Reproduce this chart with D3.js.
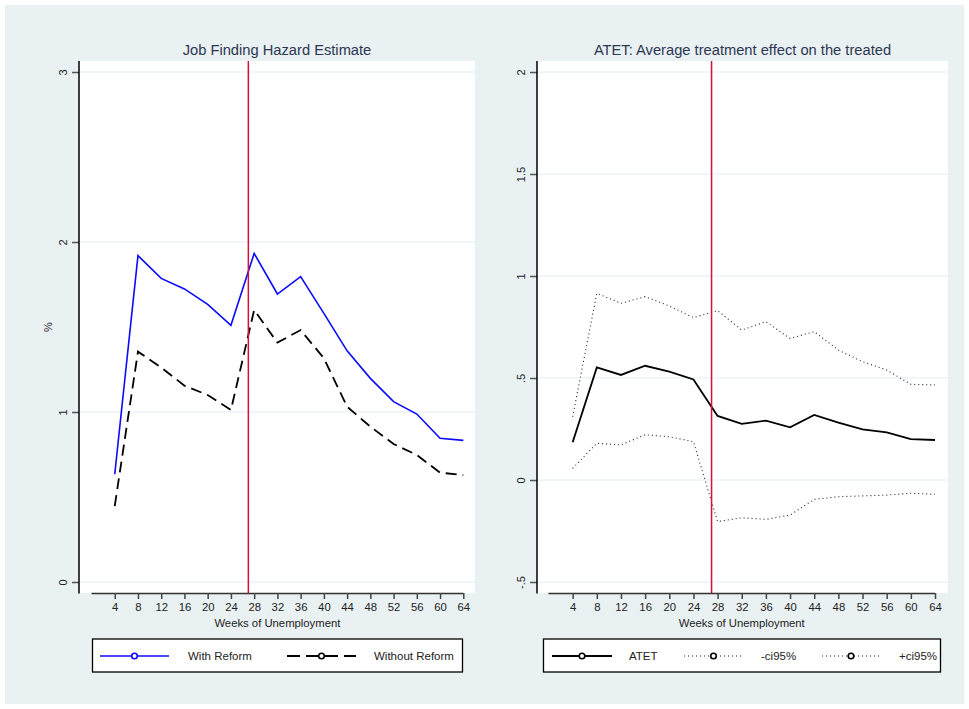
<!DOCTYPE html>
<html>
<head>
<meta charset="utf-8">
<script src="https://cdn.jsdelivr.net/npm/d3@7"></script>
<style>
  html, body { margin: 0; padding: 0; background: #ffffff; }
  svg { display: block; font-family: "Liberation Sans", Arial, sans-serif; }
</style>
</head>
<body>
<svg id="chart" width="969" height="709"></svg>
<script>
// Weeks of unemployment (x values shared by all series)
const weeks = [4, 8, 12, 16, 20, 24, 28, 32, 36, 40, 44, 48, 52, 56, 60, 64];
const xTicks = [4, 8, 12, 16, 20, 24, 28, 32, 36, 40, 44, 48, 52, 56, 60, 64];
const reformWeek = 27;

// Job finding hazard (%)
const withReform    = [0.634, 1.92, 1.786, 1.724, 1.633, 1.51, 1.933, 1.694, 1.796, 1.58, 1.36, 1.198, 1.061, 0.988, 0.845, 0.833];
const withoutReform = [0.447, 1.355, 1.262, 1.155, 1.10, 1.012, 1.60, 1.408, 1.482, 1.316, 1.031, 0.914, 0.812, 0.747, 0.643, 0.629];
const hazardTicks = [0, 1, 2, 3];

// Average treatment effect on the treated with 95% bounds
const atet    = [0.185, 0.552, 0.515, 0.56, 0.531, 0.493, 0.314, 0.275, 0.291, 0.258, 0.319, 0.281, 0.248, 0.234, 0.20, 0.196];
const ciLower = [0.057, 0.18, 0.172, 0.222, 0.212, 0.188, -0.204, -0.185, -0.193, -0.172, -0.095, -0.082, -0.078, -0.074, -0.065, -0.07];
const ciUpper = [0.31, 0.915, 0.866, 0.899, 0.853, 0.796, 0.83, 0.735, 0.776, 0.694, 0.727, 0.637, 0.58, 0.539, 0.469, 0.466];
const atetTicks = [-0.5, 0, 0.5, 1, 1.5, 2];

const svg = d3.select("#chart");
const BG = "#e9f1f3";
const TITLE = "#2c3652";
const GRID = "#e4edf1";
const RED = "#d2123c";

svg.append("rect").attr("x", 5).attr("y", 5).attr("width", 959).attr("height", 699).attr("fill", BG);

function fmt(v) {
  if (v === 0) return "0";
  let s = String(v);
  return s.replace(/^0\./, ".").replace(/^-0\./, "-.");
}

function panel(opts) {
  const g = svg.append("g");
  const { left, right, top, bottom, x0, x64, yDomain, yRange, yTicks } = opts;

  const x = d3.scaleLinear().domain([0, 64]).range([x0, x64]);
  const y = d3.scaleLinear().domain(yDomain).range(yRange);

  // plot region
  g.append("rect").attr("x", left).attr("y", top).attr("width", right - left).attr("height", bottom - top).attr("fill", "#ffffff");

  // gridlines
  g.selectAll("line.grid").data(yTicks).join("line")
    .attr("x1", left + 1).attr("x2", right)
    .attr("y1", d => y(d)).attr("y2", d => y(d))
    .attr("stroke", GRID).attr("stroke-width", 1.2);

  // title
  g.append("text").attr("x", (left + right) / 2).attr("y", 55)
    .attr("text-anchor", "middle").attr("font-size", 14.7).attr("fill", TITLE)
    .text(opts.title);

  // y axis
  const yAxis = d3.axisLeft(y).tickValues(yTicks).tickSize(7).tickFormat(fmt);
  const ya = g.append("g").attr("transform", `translate(${left},0)`).call(yAxis);
  ya.select(".domain").remove();
  ya.selectAll(".tick line").attr("stroke", "#555").attr("stroke-width", 1.5);
  ya.selectAll(".tick text")
    .attr("x", null).attr("dy", null)
    .attr("transform", "translate(-12,0) rotate(-90)")
    .attr("text-anchor", "middle").attr("font-size", 11)
    .attr("font-family", "Liberation Sans, Arial, sans-serif").attr("fill", "#222");
  g.append("line").attr("x1", left).attr("x2", left).attr("y1", top).attr("y2", bottom + 0.5)
    .attr("stroke", "#000").attr("stroke-width", 1.5);

  // x axis
  const xAxis = d3.axisBottom(x).tickValues(xTicks).tickSize(6).tickSizeOuter(0).tickPadding(4);
  const xa = g.append("g").attr("transform", `translate(0,${bottom})`).call(xAxis);
  xa.select(".domain").attr("stroke", "#333").attr("stroke-width", 1.5)
    .attr("d", `M${x0},0.5H${x64}`);
  xa.selectAll(".tick line").attr("stroke", "#444").attr("stroke-width", 1.5);
  xa.selectAll(".tick text").attr("font-size", 11.3)
    .attr("font-family", "Liberation Sans, Arial, sans-serif").attr("fill", "#222");

  g.append("text").attr("x", (x0 + x64) / 2).attr("y", 627)
    .attr("text-anchor", "middle").attr("font-size", 11.3).attr("fill", "#222")
    .text("Weeks of Unemployment");

  if (opts.yTitle) {
    g.append("text").attr("transform", `translate(52,${(top + bottom) / 2}) rotate(-90)`)
      .attr("text-anchor", "middle").attr("font-size", 11).attr("fill", "#222")
      .text(opts.yTitle);
  }

  // series
  const line = d3.line().x((d, i) => x(weeks[i])).y(d => y(d));
  opts.series.forEach(s => {
    g.append("path").datum(s.values).attr("d", line)
      .attr("fill", "none").attr("stroke", s.color).attr("stroke-width", s.width)
      .attr("stroke-dasharray", s.dash || null)
      .attr("stroke-linejoin", "miter");
  });

  // reform line
  g.append("line").attr("x1", x(reformWeek)).attr("x2", x(reformWeek))
    .attr("y1", top).attr("y2", bottom)
    .attr("stroke", RED).attr("stroke-width", 1.5);

  // legend
  const lg = opts.legend;
  g.append("rect").attr("x", lg.x).attr("y", 639).attr("width", lg.w).attr("height", 33)
    .attr("fill", "#ffffff").attr("stroke", "#000").attr("stroke-width", 1.3);
  lg.items.forEach(it => {
    const s = it.series;
    g.append("line").attr("x1", it.lx1).attr("x2", it.lx2).attr("y1", 656).attr("y2", 656)
      .attr("stroke", s.color).attr("stroke-width", s.width)
      .attr("stroke-dasharray", s.legendDash || s.dash || null);
    g.append("circle").attr("cx", (it.lx1 + it.lx2) / 2).attr("cy", 656).attr("r", 2.8)
      .attr("fill", "#fff").attr("stroke", s.markerColor || s.color).attr("stroke-width", 1.6);
    g.append("text").attr("x", it.tx).attr("y", 660).attr("font-size", 11.5).attr("fill", "#222")
      .text(s.name);
  });
}

const blue = { name: "With Reform", values: withReform, color: "#0a0aff", width: 1.6 };
const noRef = { name: "Without Reform", values: withoutReform, color: "#000", width: 1.8, dash: "11,6", legendDash: "13,6" };

panel({
  title: "Job Finding Hazard Estimate",
  left: 79, right: 475, top: 61, bottom: 593,
  x0: 91.5, x64: 463.3,
  yDomain: [0, 3], yRange: [582, 72], yTicks: hazardTicks,
  yTitle: "%",
  series: [blue, noRef],
  legend: { x: 92.5, w: 370, items: [
    { series: blue, lx1: 100, lx2: 169, tx: 188 },
    { series: noRef, lx1: 287, lx2: 356, tx: 374 }
  ] }
});

const atetS = { name: "ATET", values: atet, color: "#000", width: 1.8 };
const loS = { name: "-ci95%", values: ciLower, color: "#222", width: 1.1, dash: "1,3", markerColor: "#000" };
const hiS = { name: "+ci95%", values: ciUpper, color: "#222", width: 1.1, dash: "1,3", markerColor: "#000" };

panel({
  title: "ATET: Average treatment effect on the treated",
  left: 537, right: 948, top: 61, bottom: 593,
  x0: 548.5, x64: 935,
  yDomain: [-0.5, 2], yRange: [582, 72], yTicks: atetTicks,
  series: [atetS, loS, hiS],
  legend: { x: 543.5, w: 397, items: [
    { series: atetS, lx1: 552, lx2: 612, tx: 629 },
    { series: loS, lx1: 684, lx2: 743, tx: 761 },
    { series: hiS, lx1: 822, lx2: 880, tx: 899 }
  ] }
});
</script>
</body>
</html>
